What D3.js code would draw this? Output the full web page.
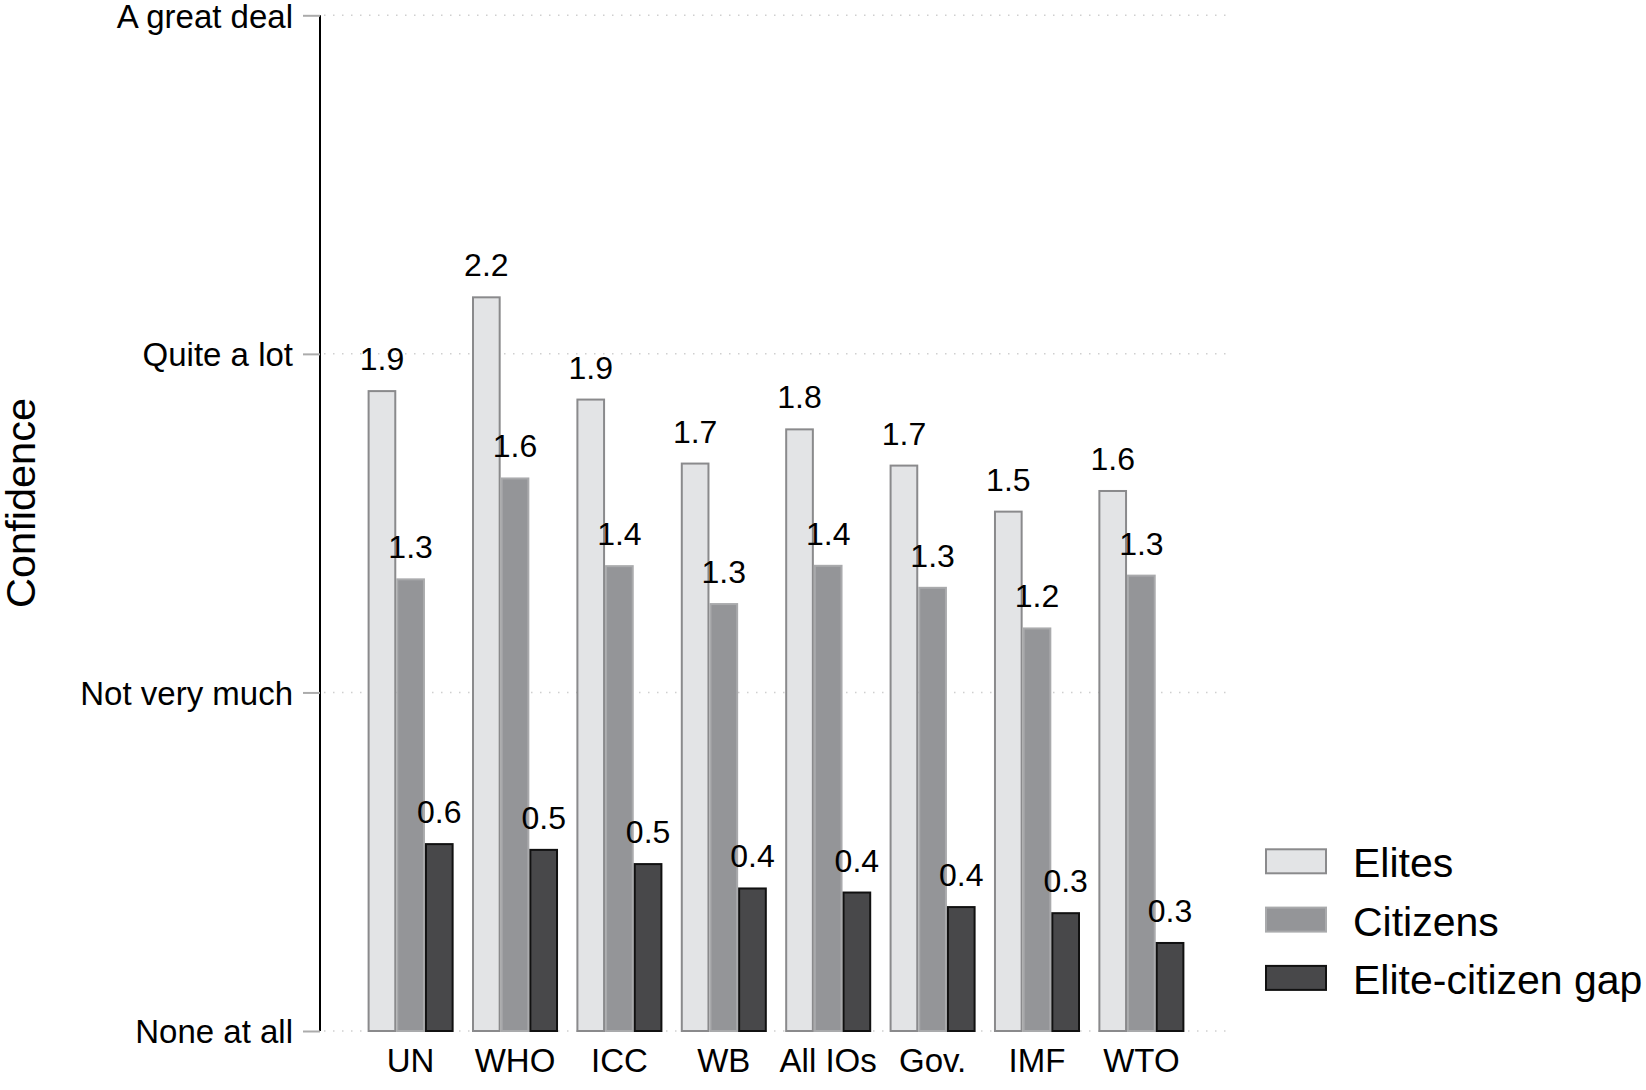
<!DOCTYPE html>
<html>
<head>
<meta charset="utf-8">
<script src="https://d3js.org/d3.v7.min.js"></script>
<style>
  body { margin: 0; background: #fff; }
  svg { display: block; font-family: "Liberation Sans", Arial, Helvetica, sans-serif; }
</style>
</head>
<body>
<svg width="1646" height="1090"></svg>
<script>
// data
const categories = ["UN", "WHO", "ICC", "WB", "All IOs", "Gov.", "IMF", "WTO"];
const series = ["Elites", "Citizens", "Elite-citizen gap"];
const elites   = [1.89, 2.167, 1.865, 1.676, 1.777, 1.67, 1.534, 1.595];
const citizens = [1.334, 1.632, 1.373, 1.261, 1.374, 1.309, 1.189, 1.345];
const gap      = [0.552, 0.535, 0.493, 0.421, 0.409, 0.366, 0.348, 0.26];
const tickValues = [0, 1, 2, 3];
const tickLabels = ["None at all", "Not very much", "Quite a lot", "A great deal"];

const fills   = ["#e3e4e6", "#949598", "#48484a"];
const strokes = ["#8a8a8c", "#a9aaac", "#111111"];

let svg = d3.select("svg"),
    plotLeft = 320, plotRight = 1232,
    plotTop = 15.3, plotBottom = 1031;

let x = d3.scaleBand()
    .domain(categories)
    .range([plotLeft, plotRight])
    .paddingInner(0.176)
    .paddingOuter(0.456);

let xs = d3.scaleBand()
    .domain(series)
    .range([0, x.bandwidth()])
    .padding(0);

let y = d3.scaleLinear()
    .domain([0, 3])
    .range([plotBottom, plotTop]);

let fmt = d3.format(".1f");

// dotted grid
svg.append("g")
    .selectAll("line")
    .data(tickValues)
    .enter()
    .append("line")
    .attr("x1", plotLeft + 4)
    .attr("x2", plotRight)
    .attr("y1", d => y(d))
    .attr("y2", d => y(d))
    .attr("stroke", "#cfcfcf")
    .attr("stroke-width", 1.5)
    .attr("stroke-dasharray", "1.5,7.5");

// y axis
let yAxis = svg.append("g")
    .attr("transform", `translate(${plotLeft},0)`)
    .call(d3.axisLeft(y)
        .tickValues(tickValues)
        .tickFormat((d, i) => tickLabels[i])
        .tickSize(17)
        .tickPadding(10));

yAxis.select(".domain")
    .attr("d", `M0,${plotTop}V${plotBottom}`)
    .attr("stroke", "#000")
    .attr("stroke-width", 2);
yAxis.selectAll(".tick line")
    .attr("stroke", "#ababab")
    .attr("stroke-width", 2);
yAxis.selectAll(".tick text")
    .attr("font-size", 33)
    .attr("font-family", "Liberation Sans, Arial, sans-serif")
    .attr("fill", "#000")
    .attr("dy", "0.36em");

// bars
let rows = categories.map((c, i) => ({
    cat: c,
    vals: [elites[i], citizens[i], gap[i]]
}));

let groups = svg.append("g")
    .selectAll("g")
    .data(rows)
    .enter()
    .append("g")
    .attr("transform", d => `translate(${x(d.cat)},0)`);

groups.selectAll("rect")
    .data(d => d.vals.map((v, j) => ({ s: series[j], v: v, j: j })))
    .enter()
    .append("rect")
    .attr("x", d => xs(d.s) + 1)
    .attr("width", xs.bandwidth() - 2)
    .attr("y", d => y(d.v))
    .attr("height", d => y(0) - y(d.v))
    .attr("fill", d => fills[d.j])
    .attr("stroke", d => strokes[d.j])
    .attr("stroke-width", 2);

// value labels drawn after all bars so they sit on top
svg.append("g")
    .selectAll("g")
    .data(rows)
    .enter()
    .append("g")
    .attr("transform", d => `translate(${x(d.cat)},0)`)
    .selectAll("text")
    .data(d => d.vals.map((v, j) => ({ s: series[j], v: v })))
    .enter()
    .append("text")
    .attr("x", d => xs(d.s) + xs.bandwidth() / 2)
    .attr("y", d => y(d.v) - 21)
    .attr("text-anchor", "middle")
    .attr("font-size", 32)
    .text(d => fmt(d.v));

// category labels
let xAxis = svg.append("g")
    .attr("transform", `translate(0,${plotBottom})`)
    .call(d3.axisBottom(x).tickSize(0).tickPadding(18));
xAxis.select(".domain").remove();
xAxis.selectAll(".tick text")
    .attr("font-size", 33)
    .attr("font-family", "Liberation Sans, Arial, sans-serif")
    .attr("fill", "#000");

// y title
svg.append("text")
    .attr("transform", "translate(35,503) rotate(-90)")
    .attr("text-anchor", "middle")
    .attr("font-size", 41.5)
    .text("Confidence");

// legend
let legend = svg.append("g")
    .selectAll("g")
    .data(series)
    .enter()
    .append("g")
    .attr("transform", (d, i) => `translate(1265,${848.3 + i * 58.3})`);

legend.append("rect")
    .attr("x", 1)
    .attr("y", 1)
    .attr("width", 60)
    .attr("height", 24)
    .attr("fill", (d, i) => fills[i])
    .attr("stroke", (d, i) => strokes[i])
    .attr("stroke-width", 2);

legend.append("text")
    .attr("x", 88)
    .attr("y", 29)
    .attr("font-size", 41)
    .text(d => d);
</script>
</body>
</html>
